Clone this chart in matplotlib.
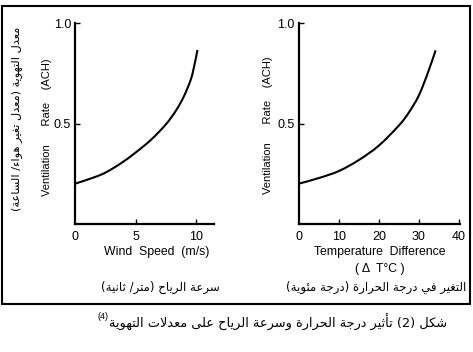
import re
import matplotlib
matplotlib.use("Agg")
import matplotlib.pyplot as plt
from matplotlib.patches import Rectangle, PathPatch
from matplotlib.path import Path
from matplotlib.text import Annotation

# ---------------- data ----------------
wind_speed = [0, 1.5, 2.5, 3.75, 5, 6.3, 7.5, 8.35, 9, 9.58, 9.87, 10.13]
wind_rate = [0.20, 0.23, 0.255, 0.30, 0.355, 0.42, 0.495, 0.565, 0.635, 0.72, 0.79, 0.867]

temp_diff = [0, 5, 10, 15, 20, 25, 27.5, 30, 32.2, 34.2]
temp_rate = [0.20, 0.228, 0.263, 0.318, 0.39, 0.49, 0.555, 0.64, 0.75, 0.865]

wind_ticks = [0, 5, 10]
temp_ticks = [0, 10, 20, 30, 40]
y_ticks = [0, 0.5, 1.0]
y_ticklabels = ["", "0.5", "1.0"]

ylabel_en = "Ventilation      Rate    (ACH)"
ylabel_ar = "معدل التهوية (معدل تغير هواء/ الساعة)"
wind_label_en = "Wind  Speed  (m/s)"
wind_label_ar = "سرعة الرياح (متر/ ثانية)"
temp_label_en = "Temperature  Difference"
temp_label_en2 = "( Δ  T°C )"
temp_label_ar = "التغير في درجة الحرارة (درجة مئوية)"
caption_ar = "شكل (2) تأثير درجة الحرارة وسرعة الرياح على معدلات التهوية"
caption_ref = "(4)"

# ---------------- minimal Arabic shaping (presentation forms + RTL order) ----------------
_counts = {0x621: 1}
for c in range(0x622, 0x626): _counts[c] = 2
_counts[0x626] = 4; _counts[0x627] = 2; _counts[0x628] = 4; _counts[0x629] = 2
for c in range(0x62A, 0x62F): _counts[c] = 4
for c in range(0x62F, 0x633): _counts[c] = 2
for c in range(0x633, 0x63B): _counts[c] = 4
for c in range(0x641, 0x648): _counts[c] = 4
_counts[0x648] = 2; _counts[0x649] = 2; _counts[0x64A] = 4
FORMS = {}
_start = 0xFE80
for c in list(range(0x621, 0x63B)) + list(range(0x641, 0x64B)):
    FORMS[c] = (_start, _counts[c])
    _start += _counts[c]
LAMALEF = {0x622: 0xFEF5, 0x623: 0xFEF7, 0x625: 0xFEF9, 0x627: 0xFEFB}


def _shape(s):
    out = []
    i, n = 0, len(s)
    while i < n:
        cp = ord(s[i])
        if cp in FORMS:
            jp = i > 0 and ord(s[i - 1]) in FORMS and FORMS[ord(s[i - 1])][1] == 4
            if cp == 0x644 and i + 1 < n and ord(s[i + 1]) in LAMALEF:
                out.append(chr(LAMALEF[ord(s[i + 1])] + (1 if jp else 0)))
                i += 2
                continue
            start, cnt = FORMS[cp]
            jn = (cnt == 4 and i + 1 < n and ord(s[i + 1]) in FORMS
                  and ord(s[i + 1]) != 0x621)
            if cnt == 1:
                f = 0
            elif cnt == 2:
                f = 1 if jp else 0
            else:
                f = 3 if (jp and jn) else 1 if jp else 2 if jn else 0
            out.append(chr(start + f))
        else:
            out.append(s[i])
        i += 1
    return "".join(out)


def ar(s):
    toks = re.findall(r"[0-9A-Za-z]+|.", _shape(s), flags=re.S)
    toks.reverse()
    mirror = {"(": ")", ")": "("}
    return "".join(mirror.get(t, t) for t in toks)


def smooth_path(xs, ys):
    """Catmull-Rom curve through the data points, as cubic Bezier segments."""
    pts = list(zip(xs, ys))
    verts = [pts[0]]
    codes = [Path.MOVETO]
    n = len(pts)
    for i in range(n - 1):
        p0 = pts[i - 1] if i > 0 else pts[i]
        p1, p2 = pts[i], pts[i + 1]
        p3 = pts[i + 2] if i + 2 < n else pts[i + 1]
        c1 = (p1[0] + (p2[0] - p0[0]) / 6, p1[1] + (p2[1] - p0[1]) / 6)
        c2 = (p2[0] - (p3[0] - p1[0]) / 6, p2[1] - (p3[1] - p1[1]) / 6)
        verts += [c1, c2, p2]
        codes += [Path.CURVE4] * 3
    return Path(verts, codes)


# ---------------- figure ----------------
W, H = 473, 352
fig = plt.figure(figsize=(W / 100, H / 100), dpi=100)
fig.patch.set_facecolor("white")

EN = ["Liberation Sans", "DejaVu Sans"]
AR = ["DejaVu Sans"]


def px(x, y):
    return x / W, 1 - y / H


def make_ax(x0, x1, y_top, y_bot, xlim, xticks):
    ax = fig.add_axes([x0 / W, 1 - y_bot / H, (x1 - x0) / W, (y_bot - y_top) / H])
    ax.set_xlim(*xlim)
    ax.set_ylim(0, 1.0)
    for s in ("top", "right"):
        ax.spines[s].set_visible(False)
    for s in ("left", "bottom"):
        ax.spines[s].set_linewidth(1.6)
        ax.spines[s].set_color("black")
    ax.tick_params(direction="in", length=3.5, width=1.0, labelsize=9, colors="black")
    ax.tick_params(axis="x", pad=5)
    ax.tick_params(axis="y", pad=3)
    ax.set_yticks(y_ticks)
    ax.set_yticklabels(y_ticklabels, fontfamily=EN)
    ax.set_xticks(xticks)
    ax.set_xticklabels([str(v) for v in xticks], fontfamily=EN)
    ax.xaxis.get_major_ticks()[0].tick1line.set_visible(False)
    ax.yaxis.get_major_ticks()[0].tick1line.set_visible(False)
    return ax


ax1 = make_ax(75.3, 214, 23.3, 223.7, (0, 11.5), wind_ticks)
ax1.add_patch(PathPatch(smooth_path(wind_speed, wind_rate), fill=False,
                        edgecolor="black", lw=1.5, capstyle="butt", clip_on=False))

ax2 = make_ax(299, 460, 23.3, 223.7, (0, 40.3), temp_ticks)
ax2.add_patch(PathPatch(smooth_path(temp_diff, temp_rate), fill=False,
                        edgecolor="black", lw=1.5, capstyle="butt", clip_on=False))

# y labels
fig.text(*px(47, 127), ylabel_en, rotation=90, ha="center", va="center",
         fontsize=8.0, family=EN)
fig.text(*px(268, 125), ylabel_en, rotation=90, ha="center", va="center",
         fontsize=8.0, family=EN)
fig.text(*px(17, 119), ar(ylabel_ar), rotation=90, ha="center", va="center",
         fontsize=8.2, family=AR)

# x labels
fig.text(*px(157, 252), wind_label_en, ha="center", va="center", fontsize=8.8, family=EN)
fig.text(*px(160, 287), ar(wind_label_ar), ha="center", va="center", fontsize=8.5, family=AR)
fig.text(*px(380, 252), temp_label_en, ha="center", va="center", fontsize=8.8, family=EN)
fig.text(*px(380, 269), temp_label_en2, ha="center", va="center", fontsize=8.8, family=EN)
fig.text(*px(376, 287), ar(temp_label_ar), ha="center", va="center", fontsize=8.5, family=AR)

# border box
fig.add_artist(Rectangle((2 / W, 1 - 304 / H), 468 / W, 298 / H, transform=fig.transFigure,
                         fill=False, edgecolor="black", lw=1.5))

# caption
cap = fig.text(*px(278, 322), ar(caption_ar), ha="center", va="center",
               fontsize=9.3, family=AR)
sup = Annotation(caption_ref, xy=(0, 0.85), xycoords=cap, ha="right", va="center",
                 fontsize=6.5, family=EN)
fig.add_artist(sup)

fig.savefig("out.png", dpi=100, facecolor="white")
